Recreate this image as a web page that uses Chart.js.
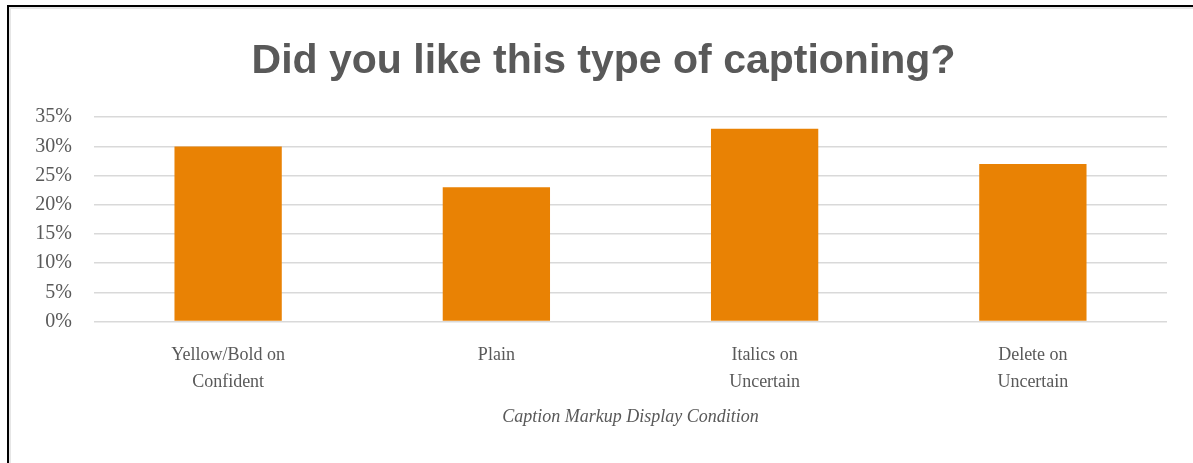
<!DOCTYPE html>
<html>
<head>
<meta charset="utf-8">
<script src="https://cdn.jsdelivr.net/npm/chart.js@4"></script>
<style>
  html, body { margin: 0; padding: 0; background: #fff; }
  #wrap { position: relative; width: 1193px; height: 463px; overflow: hidden; }
  #frame { position: absolute; left: 7px; top: 5px; width: 1300px; height: 600px;
           border-top: 2px solid #000; border-left: 2px solid #000;
           box-shadow: inset 2px 2px 0 #e6e6e6; pointer-events: none; }
  canvas { position: absolute; left: 0; top: 0; }
</style>
</head>
<body>
<div id="wrap">
  <canvas id="c" width="1193" height="463"></canvas>
  <div id="frame"></div>
</div>
<script>
const chartTitle = "Did you like this type of captioning?";
const categories = [["Yellow/Bold on", "Confident"], ["Plain"], ["Italics on", "Uncertain"], ["Delete on", "Uncertain"]];
const likedPercent = [30, 23, 33, 27];
const xAxisTitle = "Caption Markup Display Condition";
const yTickMax = 35;
const yTickStep = 5;

const shiftTitle = {
  id: 'shiftTitle',
  afterLayout(chart) {
    if (chart.titleBlock) { chart.titleBlock.left = 40; }
  }
};

new Chart(document.getElementById('c'), {
  type: 'bar',
  data: {
    labels: categories,
    datasets: [{
      data: likedPercent,
      backgroundColor: '#E98204',
      borderWidth: 0,
      barPercentage: 0.4,
      categoryPercentage: 1.0
    }]
  },
  plugins: [shiftTitle],
  options: {
    responsive: false,
    animation: false,
    layout: { padding: { left: 14, right: 26, top: 16, bottom: 0 } },
    plugins: {
      legend: { display: false },
      tooltip: { enabled: false },
      title: {
        display: true,
        text: chartTitle,
        color: '#595959',
        font: { family: 'Liberation Sans', size: 41, weight: 'bold', lineHeight: 1.2 },
        padding: { top: 21, bottom: 31 }
      }
    },
    scales: {
      x: {
        grid: { display: false, drawTicks: false },
        border: { display: false },
        ticks: {
          color: '#595959',
          font: { family: 'Liberation Serif', size: 18, lineHeight: 1.5 },
          padding: 20,
          maxRotation: 0,
          autoSkip: false
        },
        title: {
          display: true,
          text: xAxisTitle,
          color: '#595959',
          font: { family: 'Liberation Serif', size: 18, style: 'italic', lineHeight: 1.2 },
          padding: { top: 0, bottom: 35 }
        },
        afterFit: (s) => { s.height = 141.5; }
      },
      y: {
        min: 0,
        max: yTickMax,
        grid: { color: '#d9d9d9', lineWidth: 1.5, drawTicks: false },
        border: { display: false },
        ticks: {
          stepSize: yTickStep,
          color: '#595959',
          font: { family: 'Liberation Serif', size: 20 },
          padding: 22,
          callback: (v) => v + '%'
        },
        afterFit: (s) => { s.width = 80; }
      }
    }
  }
});
</script>
</body>
</html>
